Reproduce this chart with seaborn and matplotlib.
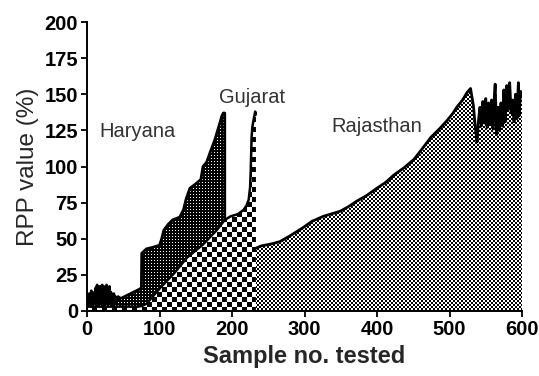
import numpy as np
import matplotlib
matplotlib.use("Agg")
import matplotlib.pyplot as plt
import seaborn as sns

# Haryana (sorted RPP values)
har_x = [0, 1, 2, 3, 4, 5, 6, 7, 8, 9, 10, 11, 12, 13, 14, 15, 16, 17, 18, 19,
         20, 21, 22, 23, 24, 25, 26, 27, 28, 29, 30, 31, 32, 33, 34, 35, 36, 37,
         38, 39, 40, 41, 42, 43, 44, 45, 48, 52, 56, 60, 64, 68, 72, 75,
         75.5, 82, 90, 100, 103, 106, 112, 118, 128, 133, 137, 142, 150, 157,
         160, 165, 170, 176, 182, 186, 188, 190]
har_y = [6, 10, 3, 12, 5, 9, 14, 4, 11, 6, 13, 5, 16, 7, 18, 4, 15, 8, 17, 5,
         12, 18, 6, 14, 4, 17, 9, 18, 5, 16, 7, 17, 6, 13, 4, 11, 7, 12,
         5, 10, 6, 9, 7, 10, 8, 9, 9, 10, 11, 12, 13, 14, 15, 16,
         40, 43, 44, 45.5, 50, 56, 60, 63, 65, 70, 78, 85, 88, 91,
         100, 103, 110, 118, 128, 135, 137, 137]

# Gujarat
guj_x = [0, 70, 76, 82, 101, 120, 138, 160, 179, 190, 198, 208, 216, 220, 223,
         225, 226, 227, 228, 230, 232, 233]
guj_y = [3, 3, 3.5, 5, 16, 26, 37, 46, 56, 63, 65.5, 67, 70, 73, 77,
         86, 100, 120, 127, 133, 138, 136]

# Rajasthan
raj_x = [233, 240, 255, 266, 280, 299, 310, 326, 349, 360, 372, 386, 400, 412,
         423, 437, 451, 462, 474, 486, 497, 505, 510, 518, 524, 529, 533, 536,
         538, 540, 542, 544, 546, 548, 550, 552, 554, 556, 558, 560, 562, 563,
         565, 567, 569, 571, 573, 575, 577, 579, 581, 583, 585, 587, 589, 591,
         593, 595, 596, 598, 600]
raj_y = [43.5, 45, 46.5, 48, 52, 58, 62, 65.5, 69, 72, 76, 80, 85, 89,
         94, 99, 105, 112, 120, 126, 132, 137, 141, 146, 151, 154, 142, 125,
         117, 132, 141, 128, 145, 130, 147, 127, 144, 129, 146, 126, 150, 157,
         122, 141, 125, 144, 128, 153, 131, 156, 140, 158, 137, 146, 131, 150,
         133, 158, 135, 152, 150]

labels = {"Haryana": (70, 124), "Gujarat": (228, 148), "Rajasthan": (400, 128)}

sns.set_theme(style="ticks")
plt.rcParams["font.family"] = ["Liberation Sans", "DejaVu Sans"]

fig = plt.figure(figsize=(5.39, 3.76), dpi=100)
ax = fig.add_axes([87 / 539, 65 / 376, 435 / 539, 289 / 376])
ax.set_xlim(0, 600)
ax.set_ylim(0, 200)

# pixel textures for the fills
W, H = 435, 289
ii, jj = np.indices((H, W))
tex_har = ((ii % 3 == 1) & (jj % 3 == 1)).astype(float)
tex_guj = (((ii // 5) + (jj // 5)) % 2).astype(float)
tex_raj = (((ii // 2) + (jj // 2)) % 2).astype(float)


def textured_area(xs, ys, tex, z):
    poly = ax.fill_between(xs, ys, 0, facecolor="none", edgecolor="none", lw=0)
    im = ax.imshow(tex, cmap="gray", vmin=0, vmax=1, extent=(0, 600, 0, 200),
                   aspect="auto", interpolation="nearest", zorder=z)
    im.set_clip_path(poly.get_paths()[0], ax.transData)


textured_area(har_x + [190.01], har_y + [0], tex_har, 1)
sns.lineplot(x=har_x + [190.01], y=har_y + [0], estimator=None, sort=False,
             color="black", lw=2, ax=ax, zorder=1.5)
textured_area(guj_x + [233.01], guj_y + [0], tex_guj, 2)
sns.lineplot(x=guj_x, y=guj_y, estimator=None, sort=False,
             color="black", lw=1.8, ax=ax, zorder=2.5)
textured_area([232.99] + raj_x, [0] + raj_y, tex_raj, 2)
sns.lineplot(x=raj_x, y=raj_y, estimator=None, sort=False,
             color="black", lw=2, ax=ax, zorder=2.5)

for name, (lx, ly) in labels.items():
    ax.text(lx, ly, name, fontsize=14.5, color="#333333", ha="center", va="center")

ax.set_xticks(range(0, 601, 100))
ax.set_yticks(range(0, 201, 25))
ax.tick_params(direction="out", length=4.5, width=1.3, labelsize=14.5, pad=2, colors="black")
for lab in ax.get_xticklabels() + ax.get_yticklabels():
    lab.set_fontweight("bold")
sns.despine(ax=ax)
for s in ("left", "bottom"):
    ax.spines[s].set_linewidth(1.4)
    ax.spines[s].set_color("black")

ax.set_xlabel("Sample no. tested", fontsize=17, fontweight="bold", labelpad=4)
ax.set_ylabel("RPP value (%)", fontsize=17.5, labelpad=4)

fig.savefig("out.png", dpi=100)
